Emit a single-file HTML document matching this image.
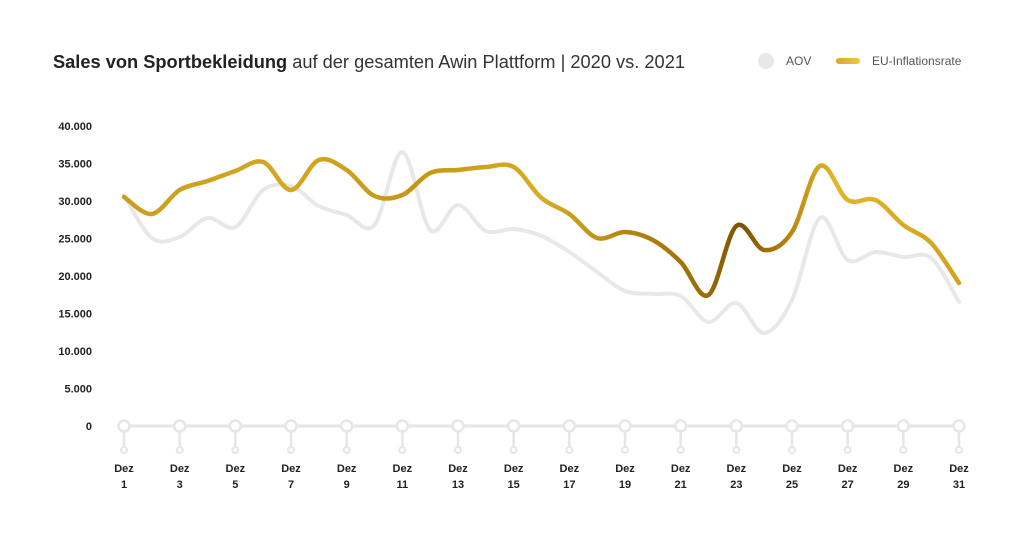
<!DOCTYPE html>
<html><head><meta charset="utf-8"><style>
body{margin:0;background:#fff;font-family:"Liberation Sans",sans-serif;}
svg{display:block}
</style></head><body>
<svg id="s" width="1025" height="539" viewBox="0 0 1025 539">
<defs>
<linearGradient id="g" gradientUnits="userSpaceOnUse" x1="124" y1="0" x2="959" y2="0">
<stop offset="0" stop-color="#c99e1c"/>
<stop offset="0.2" stop-color="#d4a823"/>
<stop offset="0.35" stop-color="#c49615"/>
<stop offset="0.5" stop-color="#d8ad25"/>
<stop offset="0.6" stop-color="#b5860f"/>
<stop offset="0.7" stop-color="#9a6a05"/>
<stop offset="0.74" stop-color="#7e5200"/>
<stop offset="0.8" stop-color="#b88a12"/>
<stop offset="0.85" stop-color="#e2b62a"/>
<stop offset="1" stop-color="#d2a21c"/>
</linearGradient>
<linearGradient id="lg" x1="0" y1="0" x2="1" y2="0"><stop offset="0" stop-color="#d9a91e"/><stop offset="1" stop-color="#f0c83a"/></linearGradient>
</defs>
<text x="53" y="68" font-size="18" fill="#333" textLength="632" lengthAdjust="spacingAndGlyphs"><tspan font-weight="bold" fill="#222">Sales von Sportbekleidung</tspan> auf der gesamten Awin Plattform | 2020 vs. 2021</text>
<circle cx="766" cy="61" r="8" fill="#e8e8e8"/>
<text x="786" y="65" font-size="12" fill="#555">AOV</text>
<rect x="836" y="58" width="24" height="6" rx="3" fill="url(#lg)"/>
<text x="872" y="65" font-size="12" fill="#555">EU-Inflationsrate</text>
<g id="yl" font-size="11" font-weight="bold" fill="#222" text-anchor="end"></g>
<line x1="124" y1="426" x2="959" y2="426" stroke="#e6e6e6" stroke-width="3"/>
<g id="xt"></g>
<path id="gray" fill="none" stroke="#e8e8e8" stroke-width="4" stroke-linecap="round"/>
<path id="gold" fill="none" stroke="url(#g)" stroke-width="4.5" stroke-linecap="round"/>
</svg>
<script>
var ns="http://www.w3.org/2000/svg";
var yl=document.getElementById("yl");
var labs=["0","5.000","10.000","15.000","20.000","25.000","30.000","35.000","40.000"];
for(var i=0;i<9;i++){var t=document.createElementNS(ns,"text");t.setAttribute("x","92");t.setAttribute("y",426-i*37.5+4);t.textContent=labs[i];yl.appendChild(t);}
var xt=document.getElementById("xt");
function X(d){return 124+(d-1)*835/30;}
for(var d=1;d<=31;d+=2){var x=X(d);
 xt.innerHTML+='<line x1="'+x+'" y1="426" x2="'+x+'" y2="449" stroke="#e6e6e6" stroke-width="2.5"/><circle cx="'+x+'" cy="426" r="5.5" fill="#fff" stroke="#e6e6e6" stroke-width="2.5"/><circle cx="'+x+'" cy="450" r="3" fill="#fff" stroke="#e6e6e6" stroke-width="2"/>'+
 '<text x="'+x+'" y="472" font-size="11" font-weight="bold" fill="#222" text-anchor="middle">Dez</text><text x="'+x+'" y="488" font-size="11" font-weight="bold" fill="#222" text-anchor="middle">'+d+'</text>';}
var gold=[197,214,190,181,171,162,190,160,170,196,195,173,170,167,167,198,214,238,232,240,262,295,226,250,232,166,200,200,225,243,283];
var gray=[195,238,237,218,227,190,186,206,215,225,152,230,205,231,229,236,252,272,291,294,296,322,303,333,300,218,260,252,257,258,302];
function path(a){var p=a.map(function(y,i){return[X(i+1),y]});var s="M"+p[0][0]+","+p[0][1];
 for(var i=0;i<p.length-1;i++){var p0=p[i-1]||p[i],p1=p[i],p2=p[i+1],p3=p[i+2]||p2;
 s+=" C"+(p1[0]+(p2[0]-p0[0])/6)+","+(p1[1]+(p2[1]-p0[1])/6)+" "+(p2[0]-(p3[0]-p1[0])/6)+","+(p2[1]-(p3[1]-p1[1])/6)+" "+p2[0]+","+p2[1];}
 return s;}
document.getElementById("gold").setAttribute("d",path(gold));
document.getElementById("gray").setAttribute("d",path(gray));
</script>
</body></html>
